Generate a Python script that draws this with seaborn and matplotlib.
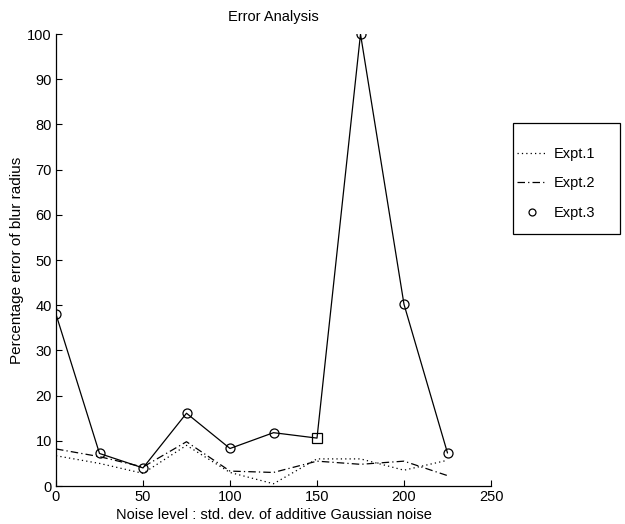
import matplotlib
matplotlib.use("Agg")
import matplotlib.pyplot as plt
from matplotlib.patches import Rectangle
from matplotlib.lines import Line2D
import seaborn as sns
import pandas as pd

noise = [0, 25, 50, 75, 100, 125, 150, 175, 200, 225]
expt1 = [6.7, 5.0, 2.8, 9.0, 3.0, 0.5, 6.0, 6.0, 3.5, 5.7]
expt2 = [8.2, 6.5, 4.2, 9.8, 3.3, 3.0, 5.5, 4.8, 5.5, 2.3]
expt3 = [38.0, 7.2, 4.0, 16.1, 8.3, 11.8, 10.6, 100.0, 40.2, 7.3]
square_index = 6

x_ticks = [0, 50, 100, 150, 200, 250]
y_ticks = [0, 10, 20, 30, 40, 50, 60, 70, 80, 90, 100]

sns.set_style("white")
plt.rcParams['font.family'] = ['Liberation Sans', 'DejaVu Sans']
fs = 10.5
plt.rcParams['font.size'] = fs
plt.rcParams['text.color'] = 'black'
plt.rcParams['axes.labelcolor'] = 'black'
plt.rcParams['xtick.color'] = 'black'
plt.rcParams['ytick.color'] = 'black'

df = pd.DataFrame({"noise": noise, "e1": expt1, "e2": expt2, "e3": expt3})
circ = df.drop(index=square_index)
sq = df.iloc[[square_index]]

fig = plt.figure(figsize=(6.25, 5.24), dpi=100)
ax = fig.add_axes([0.0896, 0.0725, 0.696, 0.8625])

lw = 0.9
dot = (0, (1, 2.5))
dashdot = (0, (6, 2.5, 1, 2.5))
sns.lineplot(data=df, x="noise", y="e1", ax=ax, color="black", linestyle=dot, linewidth=lw)
sns.lineplot(data=df, x="noise", y="e2", ax=ax, color="black", linestyle=dashdot, linewidth=lw)
sns.lineplot(data=df, x="noise", y="e3", ax=ax, color="black", linestyle="-", linewidth=lw)
ax.plot(circ["noise"], circ["e3"], linestyle="none", marker="o", markersize=6.5,
        markerfacecolor="none", markeredgecolor="black", markeredgewidth=0.9)
ax.plot(sq["noise"], sq["e3"], linestyle="none", marker="s", markersize=6.5,
        markerfacecolor="none", markeredgecolor="black", markeredgewidth=0.9)

ax.set_xlim(0, 250)
ax.set_ylim(0, 100)
ax.set_xticks(x_ticks)
ax.set_yticks(y_ticks)
ax.tick_params(direction="in", length=4, width=0.8, colors="black", labelsize=fs, pad=3)
ax.tick_params(axis="both", which="both", bottom=True, left=True)
for s in ["top", "right"]:
    ax.spines[s].set_visible(False)
for s in ["left", "bottom"]:
    ax.spines[s].set_color("black")
    ax.spines[s].set_linewidth(0.9)

ax.set_title("Error Analysis", fontsize=fs, pad=9.5, color="black")
ax.set_xlabel("Noise level : std. dev. of additive Gaussian noise", fontsize=fs, labelpad=3)
ax.set_ylabel("Percentage error of blur radius", fontsize=11, labelpad=2)

handles = [
    Line2D([], [], color="black", linestyle=dot, linewidth=lw),
    Line2D([], [], color="black", linestyle=dashdot, linewidth=lw),
    Line2D([], [], color="black", linestyle="none", marker="o", markersize=5,
           markerfacecolor="none", markeredgewidth=0.9),
]
fig.add_artist(Rectangle((513 / 625, 1 - 234 / 524), (620 - 513) / 625, (234 - 123) / 524,
                         transform=fig.transFigure, fill=False, edgecolor="black", linewidth=0.9))
fig.legend(handles, ["Expt.1", "Expt.2", "Expt.3"], loc="upper left",
           bbox_to_anchor=(517 / 625, 1 - 147 / 524), frameon=False, handlelength=2.05,
           handletextpad=0.5, labelspacing=1.05, borderpad=0, borderaxespad=0, fontsize=fs)

fig.savefig("out.png", dpi=100)
